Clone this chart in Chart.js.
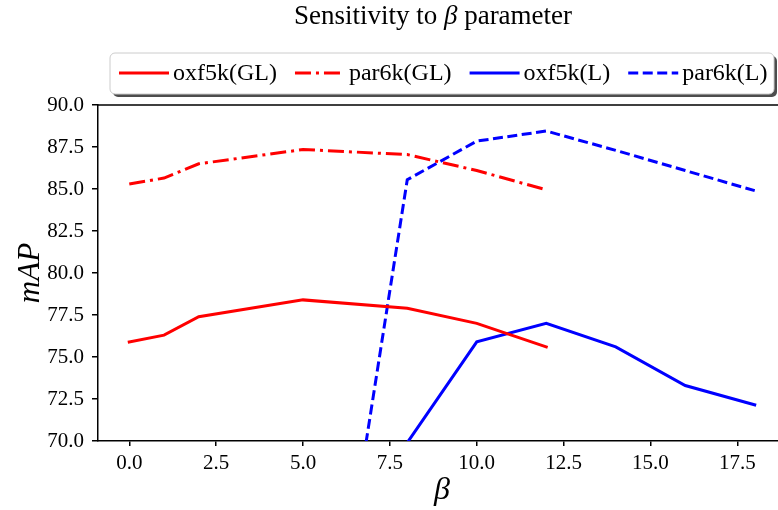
<!DOCTYPE html>
<html>
<head>
<meta charset="utf-8">
<script src="https://cdn.jsdelivr.net/npm/chart.js@4.4.1/dist/chart.umd.min.js"></script>
<style>
  html, body { margin: 0; padding: 0; background: #fff; overflow: hidden; }
  #wrap { width: 800px; height: 510px; }
</style>
</head>
<body>
<div id="wrap"><canvas id="myChart"></canvas></div>
<script>
// beta values and mAP for each method
const betaGL = [0, 1, 2, 5, 8, 10, 12];
const oxfGL = [75.9, 76.3, 77.4, 78.4, 77.9, 77.0, 75.6];
const parGL = [85.3, 85.65, 86.5, 87.35, 87.05, 86.1, 84.95];

const betaOxfL = [8, 10, 12, 14, 16, 18];
const oxfL = [69.9, 75.9, 77.0, 75.6, 73.3, 72.15];
const betaParL = [5, 8, 10, 12, 14, 16, 18];
const parL = [46.0, 85.55, 87.85, 88.45, 87.3, 86.1, 84.9];

const xTicks = [0, 2.5, 5, 7.5, 10, 12.5, 15, 17.5];
const yTicks = [70, 72.5, 75, 77.5, 80, 82.5, 85, 87.5, 90];

const serif = "'Liberation Serif', 'DejaVu Serif', serif";

function pts(xs, ys) {
    return xs.map((x, i) => ({ x: x, y: ys[i] }));
}

function makeSet(label, xs, ys, color, dash) {
    return {
        label: label,
        data: pts(xs, ys),
        borderColor: color,
        borderWidth: 3,
        borderDash: dash,
        borderCapStyle: dash.length ? 'butt' : 'square',
        pointRadius: 0,
        tension: 0,
        fill: false,
        clip: 0
    };
}

// title, legend box and top spine
const decor = {
    id: 'decor',
    afterDraw(chart) {
        const ctx = chart.ctx;
        const area = chart.chartArea;
        ctx.save();

        // top spine
        ctx.strokeStyle = '#000';
        ctx.lineWidth = 1.5;
        ctx.beginPath();
        ctx.moveTo(area.left, area.top);
        ctx.lineTo(area.right, area.top);
        ctx.lineTo(area.right, area.bottom);
        ctx.stroke();

        // title with italic beta
        const parts = [
            ['Sensitivity to ', 'normal'],
            ['\u03B2', 'italic'],
            [' parameter', 'normal']
        ];
        let w = 0;
        parts.forEach(p => {
            ctx.font = p[1] + ' 27px ' + serif;
            w += ctx.measureText(p[0]).width;
        });
        let tx = 433 - w / 2;
        ctx.fillStyle = '#000';
        ctx.textBaseline = 'middle';
        parts.forEach(p => {
            ctx.font = p[1] + ' 27px ' + serif;
            ctx.fillText(p[0], tx, 17);
            tx += ctx.measureText(p[0]).width;
        });

        // legend box with shadow
        const bx = 110, by = 53, bw = 664, bh = 41, r = 5;
        function box(x, y) {
            ctx.beginPath();
            ctx.roundRect(x, y, bw, bh, r);
        }
        ctx.fillStyle = '#4d4d4d';
        box(bx + 3, by + 3);
        ctx.fill();
        ctx.fillStyle = '#fff';
        box(bx, by);
        ctx.fill();
        ctx.strokeStyle = '#cccccc';
        ctx.lineWidth = 1;
        ctx.stroke();

        let lx = 119;
        const ly = 73;
        ctx.font = '24px ' + serif;
        chart.data.datasets.forEach(ds => {
            ctx.strokeStyle = ds.borderColor;
            ctx.lineWidth = 3;
            ctx.lineCap = 'butt';
            ctx.setLineDash(ds.borderDash);
            ctx.beginPath();
            ctx.moveTo(lx, ly);
            ctx.lineTo(lx + 50, ly);
            ctx.stroke();
            ctx.setLineDash([]);
            ctx.fillStyle = '#000';
            ctx.fillText(ds.label, lx + 54, ly + 1);
            lx += 54 + ctx.measureText(ds.label).width + 18;
        });

        ctx.restore();
    }
};

new Chart("myChart", {
    type: "line",
    data: {
        datasets: [
            makeSet('oxf5k(GL)', betaGL, oxfGL, '#ff0000', []),
            makeSet('par6k(GL)', betaGL, parGL, '#ff0000', [16, 5, 3, 5]),
            makeSet('oxf5k(L)', betaOxfL, oxfL, '#0000ff', []),
            makeSet('par6k(L)', betaParL, parL, '#0000ff', [10, 4.5])
        ]
    },
    options: {
        responsive: true,
        maintainAspectRatio: false,
        animation: false,
        layout: { padding: { top: 105, right: 14, left: 0, bottom: 0 } },
        plugins: {
            legend: { display: false },
            tooltip: { enabled: false }
        },
        scales: {
            x: {
                type: 'linear',
                min: -0.9,
                max: 18.9,
                afterFit(scale) { scale.height = 69; },
                afterBuildTicks(scale) { scale.ticks = xTicks.map(v => ({ value: v })); },
                grid: { drawOnChartArea: false, drawTicks: true, tickLength: 5, color: '#000', lineWidth: 1.5 },
                border: { display: true, color: '#000', width: 1.5 },
                ticks: {
                    color: '#000',
                    padding: 5,
                    maxRotation: 0,
                    font: { family: serif, size: 21 },
                    callback: v => v.toFixed(1)
                },
                title: {
                    display: true,
                    text: '\u03B2',
                    color: '#000',
                    font: { family: serif, size: 32, style: 'italic', lineHeight: 1 },
                    padding: { top: 0, bottom: 3 }
                }
            },
            y: {
                min: 70,
                max: 90,
                afterFit(scale) { scale.width = 98; },
                afterBuildTicks(scale) { scale.ticks = yTicks.map(v => ({ value: v })); },
                grid: { drawOnChartArea: false, drawTicks: true, tickLength: 6, color: '#000', lineWidth: 1.5 },
                border: { display: true, color: '#000', width: 1.5 },
                ticks: {
                    color: '#000',
                    padding: 8,
                    font: { family: serif, size: 21 },
                    callback: v => v.toFixed(1)
                },
                title: {
                    display: true,
                    text: 'mAP',
                    color: '#000',
                    font: { family: serif, size: 31, style: 'italic', lineHeight: 1 },
                    padding: { top: 15, bottom: 0 }
                }
            }
        }
    },
    plugins: [decor]
});
</script>
</body>
</html>
